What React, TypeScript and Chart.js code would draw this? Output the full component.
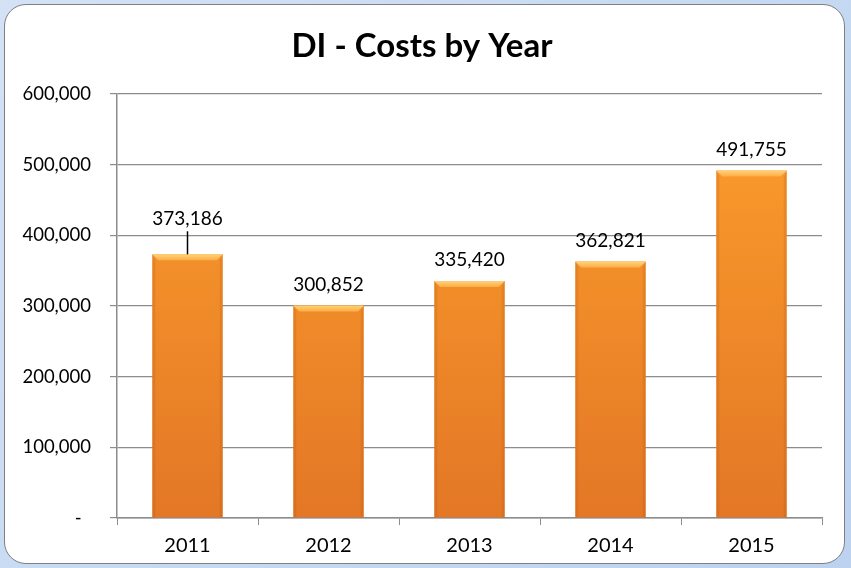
import React, { useRef, useEffect } from 'react';
import { Chart, registerables } from 'chart.js';

Chart.register(...registerables);

// values
const years = ['2011', '2012', '2013', '2014', '2015'];
const costs = [373186, 300852, 335420, 362821, 491755];
const yTicks = [0, 100000, 200000, 300000, 400000, 500000, 600000];

const FONT = 'Lato, "Open Sans", sans-serif';

const fmt = (v: number) => v.toLocaleString('en-US');

// Excel style top bevel and slightly dark sides on every bar
const bevelPlugin = {
  id: 'bevel',
  afterDatasetsDraw(chart: any) {
    const { ctx } = chart;
    chart.getDatasetMeta(0).data.forEach((bar: any) => {
      const l = bar.x - bar.width / 2;
      const r = bar.x + bar.width / 2;
      const t = bar.y;
      const b = bar.base;
      const bw = 6;
      ctx.save();
      const g = ctx.createLinearGradient(0, t, 0, t + bw);
      g.addColorStop(0, '#ffd27a');
      g.addColorStop(1, '#fdae45');
      ctx.fillStyle = g;
      ctx.beginPath();
      ctx.moveTo(l, t);
      ctx.lineTo(r, t);
      ctx.lineTo(r - bw, t + bw);
      ctx.lineTo(l + bw, t + bw);
      ctx.closePath();
      ctx.fill();
      ctx.fillStyle = 'rgba(170, 80, 10, 0.18)';
      ctx.beginPath();
      ctx.moveTo(l, t);
      ctx.lineTo(l + bw / 2, t + bw);
      ctx.lineTo(l + bw / 2, b);
      ctx.lineTo(l, b);
      ctx.closePath();
      ctx.fill();
      ctx.beginPath();
      ctx.moveTo(r, t);
      ctx.lineTo(r - bw / 2, t + bw);
      ctx.lineTo(r - bw / 2, b);
      ctx.lineTo(r, b);
      ctx.closePath();
      ctx.fill();
      ctx.restore();
    });
  },
};

// value labels above the bars, the first one pushed up with a leader line
const labelPlugin = {
  id: 'valueLabels',
  afterDatasetsDraw(chart: any) {
    const { ctx } = chart;
    const ds = chart.data.datasets[0];
    ctx.save();
    ctx.font = `19px ${FONT}`;
    ctx.fillStyle = '#000';
    ctx.textAlign = 'center';
    ctx.textBaseline = 'middle';
    chart.getDatasetMeta(0).data.forEach((bar: any, i: number) => {
      const lifted = i === 0;
      const off = lifted ? 35 : 21;
      ctx.fillText(fmt(ds.data[i]), bar.x, bar.y - off);
      if (lifted) {
        ctx.strokeStyle = '#000';
        ctx.lineWidth = 1.5;
        ctx.beginPath();
        ctx.moveTo(bar.x, bar.y - off + 12);
        ctx.lineTo(bar.x, bar.y);
        ctx.stroke();
      }
    });
    ctx.restore();
  },
};

const titlePlugin = {
  id: 'fixedTitle',
  afterDraw(chart: any) {
    const { ctx } = chart;
    ctx.save();
    ctx.font = `bold 33px ${FONT}`;
    ctx.fillStyle = '#000';
    ctx.textAlign = 'center';
    ctx.textBaseline = 'alphabetic';
    ctx.fillText('DI - Costs by Year', 422, 57);
    ctx.restore();
  },
};

const CostsChart: React.FC = () => {
  const canvasRef = useRef<HTMLCanvasElement>(null);
  const chartInstance = useRef<Chart | null>(null);

  useEffect(() => {
    if (!canvasRef.current) return;
    const ctx = canvasRef.current.getContext('2d');
    if (!ctx) return;

    if (chartInstance.current) {
      chartInstance.current.destroy();
    }

    chartInstance.current = new Chart(ctx, {
      type: 'bar',
      data: {
        labels: years,
        datasets: [
          {
            label: 'Costs',
            data: costs,
            backgroundColor: (c: any) => {
              const area = c.chart.chartArea;
              if (!area) return '#f39330';
              const g = c.chart.ctx.createLinearGradient(0, area.top, 0, area.bottom);
              g.addColorStop(0, '#fd9f2c');
              g.addColorStop(1, '#e37726');
              return g;
            },
            borderWidth: 0,
            barPercentage: 0.5,
            categoryPercentage: 1,
          },
        ],
      },
      options: {
        responsive: true,
        maintainAspectRatio: false,
        animation: false,
        layout: { padding: { left: 0, right: 29, top: 94, bottom: 0 } },
        plugins: {
          legend: { display: false },
          title: { display: false },
          tooltip: { enabled: false },
        },
        scales: {
          x: {
            afterFit: (s: any) => {
              s.height = 50;
            },
            grid: {
              offset: true,
              drawOnChartArea: false,
              drawTicks: true,
              tickLength: 7,
              color: '#8c8c8c',
            },
            border: { display: true, color: '#8c8c8c', width: 1.5 },
            ticks: {
              color: '#000',
              font: { family: FONT, size: 20 },
              padding: 9,
            },
          },
          y: {
            min: 0,
            max: 600000,
            afterFit: (s: any) => {
              s.width = 117;
            },
            afterBuildTicks: (s: any) => {
              s.ticks = yTicks.map((v) => ({ value: v }));
            },
            grid: {
              color: '#8c8c8c',
              lineWidth: 1.2,
              tickLength: 7,
            },
            border: { display: true, color: '#8c8c8c', width: 1.5 },
            ticks: {
              color: '#000',
              font: { family: FONT, size: 18.5 },
              padding: 19,
              callback: (v: any) => (v === 0 ? '-  ' : fmt(Number(v))),
            },
          },
        },
      },
      plugins: [bevelPlugin, labelPlugin, titlePlugin],
    });

    return () => {
      if (chartInstance.current) {
        chartInstance.current.destroy();
        chartInstance.current = null;
      }
    };
  }, []);

  return (
    <div
      style={{
        position: 'fixed',
        left: 0,
        top: 0,
        width: 851,
        height: 568,
        background: 'linear-gradient(135deg, #d3e2f5 0%, #bcd2ef 100%)',
      }}
    >
      <div
        style={{
          position: 'absolute',
          left: 4,
          top: 4,
          width: 839,
          height: 558,
          background: '#fff',
          border: '1.5px solid #7f7f7f',
          borderRadius: 22,
        }}
      />
      <div style={{ position: 'absolute', left: 0, top: 0, width: 851, height: 568 }}>
        <canvas ref={canvasRef} />
      </div>
    </div>
  );
};

export default function App() {
  return <CostsChart />;
}
